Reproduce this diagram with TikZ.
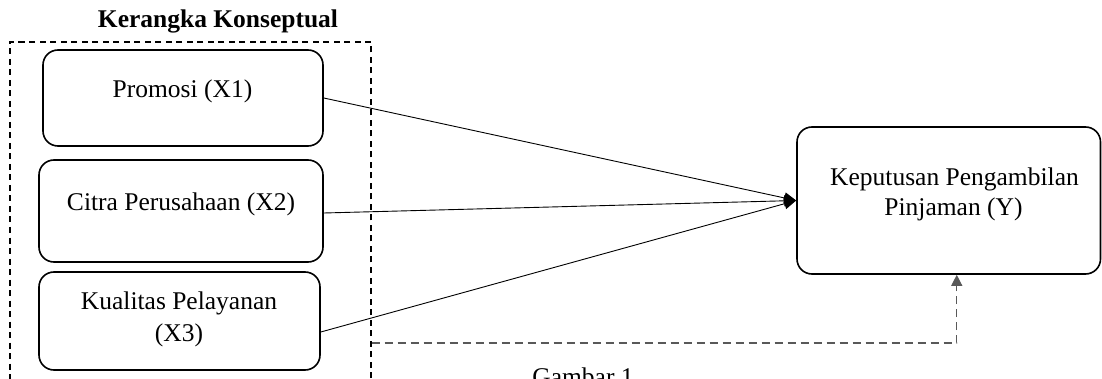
\documentclass[tikz,border=0pt]{standalone}
\usepackage{fontspec}
\setmainfont{Liberation Serif}
\usetikzlibrary{arrows.meta,calc}
\definecolor{dashgray}{gray}{0.35}
\begin{document}
\begin{tikzpicture}[x=1pt,y=-1pt,
  box/.style={draw=black,line width=1.6pt,rounded corners=15pt,inner sep=0pt},
  lbl/.style={inner sep=0pt,anchor=base,font=\fontsize{25.5}{31}\selectfont},
  ttl/.style={inner sep=0pt,anchor=base,font=\fontsize{25.5}{31}\selectfont\bfseries},
  frame/.style={draw=black,line width=1.1pt,dash pattern=on 6pt off 4.5pt,inner sep=0pt},
  arr/.style={-{Triangle[length=12pt,width=11pt]},line width=0.9pt},
  darr/.style={-{Triangle[length=11pt,width=11pt]},line width=1.2pt,draw=dashgray,dash pattern=on 8pt off 5pt}
]
\useasboundingbox (0,0) rectangle (1102,379);
\clip (0,0) rectangle (1102,379);
% title and frame
\node[ttl] (title) at (218,28) {Kerangka Konseptual};
\node[frame,minimum width=361pt,minimum height=353pt] (frm) at (190.5,218.5) {};
% boxes
\node[box,minimum width=280pt,minimum height=96pt] (x1) at (183,98) {};
\node[box,minimum width=284pt,minimum height=102pt] (x2) at (181,211) {};
\node[box,minimum width=281pt,minimum height=98pt] (x3) at (179.5,321) {};
\node[box,minimum width=303.5pt,minimum height=147pt] (y) at (948.75,200.5) {};
% texts
\node[lbl] (x1t) at (182.5,98) {Promosi (X1)};
\node[lbl] (x2t) at (181,211) {Citra Perusahaan (X2)};
\node[lbl] (x3a) at (179,309) {Kualitas Pelayanan};
\node[lbl] (x3b) at (179,341) {(X3)};
\node[lbl] (ya) at (954.5,186) {Keputusan Pengambilan};
\node[lbl] (yb) at (953.5,216) {Pinjaman (Y)};
\node[lbl] (cap) at (583,385) {Gambar 1};
% connectors
\draw[arr] (x1.east) -- (y.west);
\draw[arr] ($(x2.east)+(0,2)$) -- (y.west);
\draw[arr] ($(x3.east)+(0,11)$) -- (y.west);
\coordinate (fe) at ($(frm.east |- x3.east)+(0,22)$);
\coordinate (yin) at ($(y.south)+(8,0)$);
\draw[darr] (fe) -| (yin);
\end{tikzpicture}
\end{document}
